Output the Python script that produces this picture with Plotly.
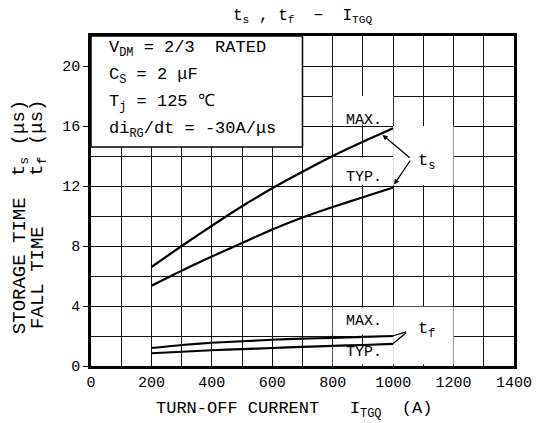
import plotly.graph_objects as go

# ---- data ----
current = [200, 300, 400, 500, 600, 700, 800, 900, 1000]
ts_max = [6.6, 8.0, 9.35, 10.65, 11.85, 12.95, 14.0, 14.95, 15.85]
ts_typ = [5.35, 6.35, 7.3, 8.2, 9.1, 9.9, 10.6, 11.25, 11.9]
tf_max = [1.2, 1.4, 1.55, 1.65, 1.75, 1.82, 1.88, 1.94, 2.0]
tf_typ = [0.85, 0.95, 1.05, 1.12, 1.2, 1.27, 1.34, 1.4, 1.47]

x_ticks = [0, 200, 400, 600, 800, 1000, 1200, 1400]
y_ticks = [0, 4, 8, 12, 16, 20]

FONT = "Liberation Mono"
L, R, T, B = 91, 23, 36, 57
W, H = 544, 423
PW, PH = W - L - R, H - T - B


def px(xp):
    return (xp - L) / PW


def py(yp):
    return (H - B - yp) / PH


fig = go.Figure()
for ys in (ts_max, ts_typ, tf_max, tf_typ):
    fig.add_trace(go.Scatter(x=current, y=ys, mode="lines",
                             line=dict(color="black", width=2.2, shape="spline", smoothing=0.6),
                             showlegend=False, hoverinfo="skip"))

shapes = []
# white areas behind labels (grid cleared)
for x0, x1, y0, y1 in [(800, 1000, 16.1, 18), (800, 1000, 12.1, 13.9),
                       (1000, 1200, 12.05, 16), (800, 1000, 2.1, 3.9),
                       (800, 1000, 0.1, 1.3), (1000, 1200, 0.1, 3.95)]:
    shapes.append(dict(type="rect", xref="x", yref="y", x0=x0, x1=x1, y0=y0, y1=y1,
                       fillcolor="white", line=dict(width=0), layer="between"))
# condition box
shapes.append(dict(type="rect", xref="x", yref="y", x0=0, x1=700, y0=14.6, y1=22,
                   fillcolor="white", line=dict(color="black", width=1.5), layer="between"))

ann = []


def paper_text(text, xp, yp, font, angle=0, xanchor="center"):
    ann.append(dict(text=text, xref="paper", yref="paper", x=px(xp), y=py(yp),
                    xanchor=xanchor, yanchor="middle", textangle=angle,
                    showarrow=False, font=font))


tfont = dict(family=FONT, size=15, color="black")
cfont = dict(family=FONT, size=17, color="black")
cond = ["V<sub>DM</sub> = 2/3  RATED", "C<sub>S</sub> = 2 μF",
        "T<sub>j</sub> = 125 ℃", "di<sub>RG</sub>/dt = -30A/μs"]
for i, t in enumerate(cond):
    paper_text(t, 107, 49 + 27 * i, cfont, xanchor="left")

for t, xx, yy in [("MAX.", 905, 16.4), ("TYP.", 905, 12.6), ("MAX.", 905, 3.0),
                  ("TYP.", 905, 0.87)]:
    ann.append(dict(text=t, x=xx, y=yy, xref="x", yref="y", showarrow=False, font=tfont))

ann.append(dict(text="t<sub>s</sub>", x=1112, y=13.6, xref="x", yref="y",
                showarrow=False, font=dict(family=FONT, size=17, color="black")))
ann.append(dict(text="t<sub>f</sub>", x=1110, y=2.4, xref="x", yref="y",
                showarrow=False, font=dict(family=FONT, size=17, color="black")))

# pointer lines
for (hx, hy, tx, ty, head) in [(965, 15.4, 1060, 13.8, 2), (1003, 12.1, 1060, 13.8, 2),
                               (990, 1.95, 1048, 2.3, 0), (1000, 1.5, 1048, 2.3, 0)]:
    ann.append(dict(x=hx, y=hy, ax=tx, ay=ty, xref="x", yref="y", axref="x", ayref="y",
                    showarrow=True, arrowhead=head, arrowsize=0.8, arrowwidth=1.3,
                    arrowcolor="black", text=""))

# title
paper_text("t<sub>s</sub> , t<sub>f</sub>  −  I<sub>TGQ</sub>", 306, 16,
           dict(family=FONT, size=16, color="black"))
# x title
paper_text("TURN-OFF CURRENT   I<sub>TGQ</sub>  (A)", 297, 410,
           dict(family=FONT, size=17, color="black"))
# y titles
yfont = dict(family=FONT, size=19, color="black")
for t, xp, yp in [("STORAGE TIME", 19, 266), ("FALL TIME", 37, 277),
                  ("t<sub>s</sub> (μs)", 19, 138), ("t<sub>f</sub> (μs)", 37, 138)]:
    paper_text(t, xp, yp, yfont, angle=-90)

fig.update_layout(
    width=W, height=H, margin=dict(l=L, r=R, t=T, b=B),
    paper_bgcolor="white", plot_bgcolor="white",
    shapes=shapes, annotations=ann,
    font=dict(family=FONT, size=15, color="black"),
)
fig.update_xaxes(range=[0, 1400], tickvals=x_ticks, ticktext=[str(v) for v in x_ticks],
                 showgrid=True, gridcolor="#111", gridwidth=1.3,
                 minor=dict(dtick=100, showgrid=True, gridcolor="#111", gridwidth=1.3),
                 showline=True, linecolor="black", linewidth=2.5, mirror=True,
                 ticks="", zeroline=False, tickfont=dict(family=FONT, size=15))
fig.update_yaxes(range=[0, 22], tickvals=y_ticks, ticktext=[str(v) for v in y_ticks],
                 showgrid=True, gridcolor="#111", gridwidth=1.3,
                 minor=dict(dtick=2, showgrid=True, gridcolor="#111", gridwidth=1.3),
                 showline=True, linecolor="black", linewidth=2.5, mirror=True,
                 ticks="outside", ticklen=5, tickcolor="black", zeroline=False,
                 tickfont=dict(family=FONT, size=15))

fig.write_html("out.html")
